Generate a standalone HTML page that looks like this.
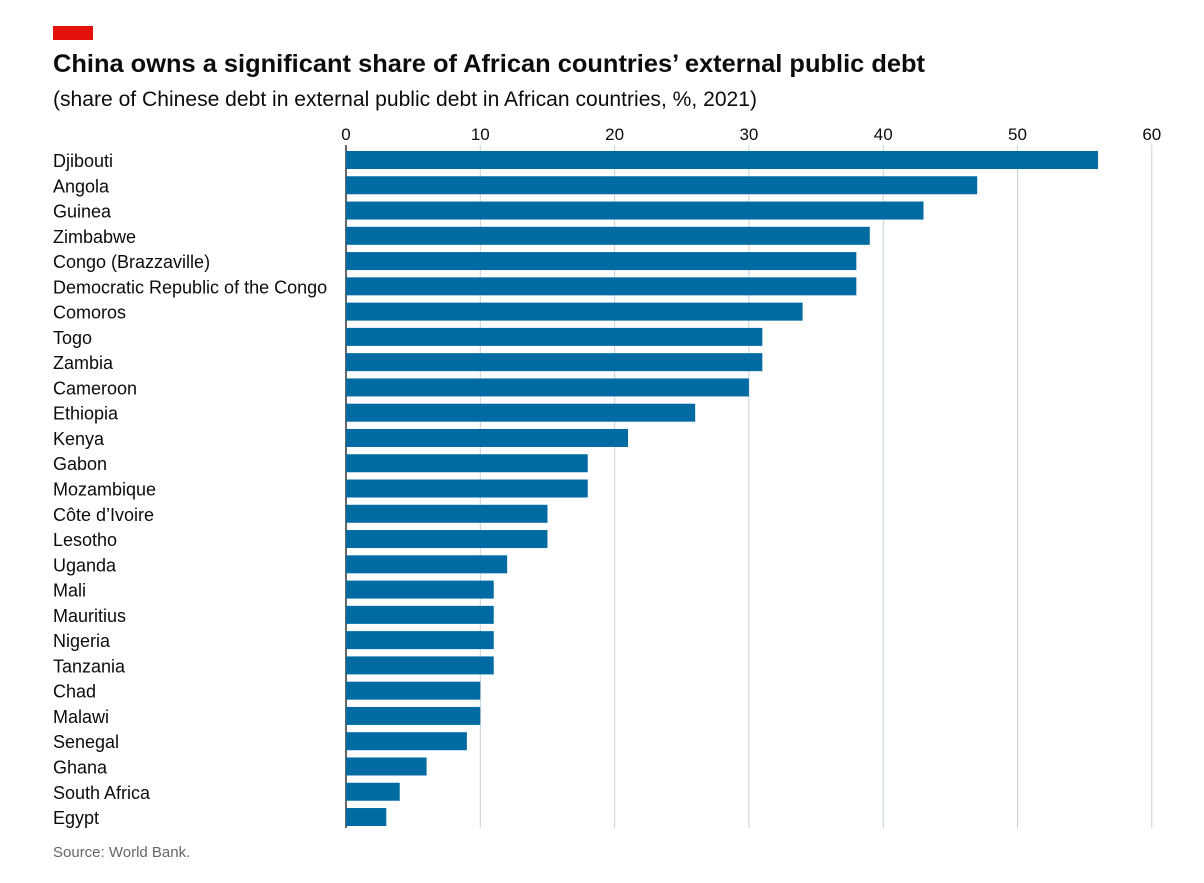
<!DOCTYPE html>
<html><head><meta charset="utf-8"><style>
body{margin:0;background:#fff;width:1204px;height:878px;overflow:hidden;font-family:"Liberation Sans",sans-serif}
</style></head><body>
<svg width="1204" height="878">
<rect x="53" y="26" width="40" height="14" fill="#e3120b"/>
<text x="53" y="72" font-size="25" font-weight="bold" fill="#0c0c0c" textLength="872" lengthAdjust="spacingAndGlyphs">China owns a significant share of African countries’ external public debt</text>
<text x="53" y="106" font-size="21" fill="#0c0c0c" textLength="704" lengthAdjust="spacingAndGlyphs">(share of Chinese debt in external public debt in African countries, %, 2021)</text>
<g id="grid"></g><g id="bars"></g><g id="labels"></g>
<text x="53" y="857" font-size="15" fill="#666">Source: World Bank.</text>
</svg>
<script>
const categories=["Djibouti","Angola","Guinea","Zimbabwe","Congo (Brazzaville)","Democratic Republic of the Congo","Comoros","Togo","Zambia","Cameroon","Ethiopia","Kenya","Gabon","Mozambique","Côte d’Ivoire","Lesotho","Uganda","Mali","Mauritius","Nigeria","Tanzania","Chad","Malawi","Senegal","Ghana","South Africa","Egypt"];
const values=[56,47,43,39,38,38,34,31,31,30,26,21,18,18,15,15,12,11,11,11,11,10,10,9,6,4,3];
const ticks=[0,10,20,30,40,50,60];
const NS="http://www.w3.org/2000/svg";
const x=v=>346+v*13.43;
const y=i=>151+i*25.27;
function mk(t,a,p){const e=document.createElementNS(NS,t);for(const k in a)e.setAttribute(k,a[k]);p.appendChild(e);return e;}
const G=document.getElementById('grid'),B=document.getElementById('bars'),L=document.getElementById('labels');
ticks.forEach(t=>{
 const l=mk('line',{x1:x(t),x2:x(t),y1:145,y2:828,stroke:t===0?'#333':'#c7d1d8','stroke-width':t===0?1.5:1},G);
 
 
 const tx=mk('text',{x:x(t),y:140,'font-size':17,'text-anchor':'middle',fill:'#0c0c0c'},G);
 tx.textContent=t;
 
 
});
categories.forEach((c,i)=>{
 const r=mk('rect',{x:x(0),y:y(i),width:x(values[i])-x(0),height:18,fill:'#006ba2'},B);
 
 
 const t=mk('text',{x:53,y:y(i)+16,'font-size':18,fill:'#0c0c0c'},L);
 t.textContent=c;
 
 
});
</script>
</body></html>
